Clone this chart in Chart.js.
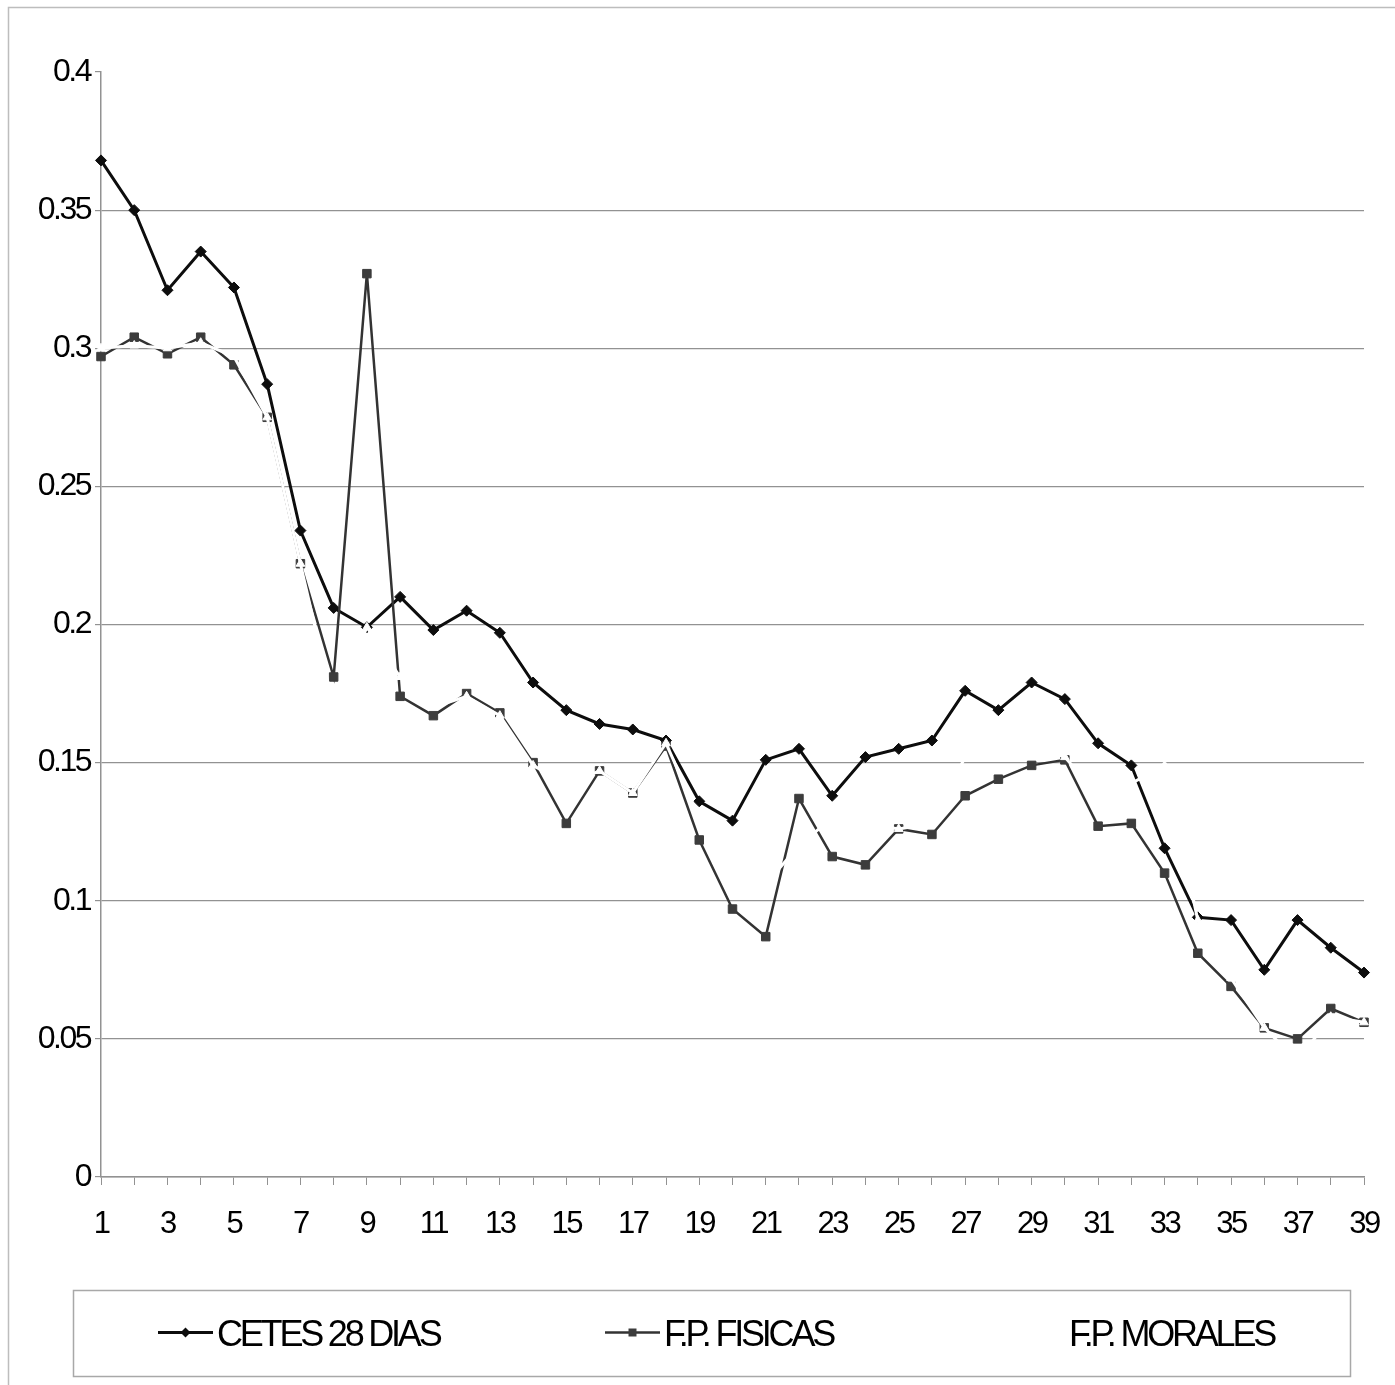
<!DOCTYPE html>
<html>
<head>
<meta charset="utf-8">
<title>CETES 28 DIAS / F.P. FISICAS / F.P. MORALES</title>
<script src="https://cdn.jsdelivr.net/npm/chart.js@4/dist/chart.umd.min.js"></script>
<style>
  html, body { margin: 0; padding: 0; background: #ffffff; }
  #wrap { width: 1395px; height: 1385px; position: relative; }
  canvas { display: block; }
</style>
</head>
<body>
<div id="wrap"><canvas id="c" width="1395" height="1385"></canvas></div>
<script>
// Periods on the horizontal axis
const periods = ['1','2','3','4','5','6','7','8','9','10','11','12','13','14','15','16','17','18','19','20',
                 '21','22','23','24','25','26','27','28','29','30','31','32','33','34','35','36','37','38','39'];

// Rates per period
const cetes28 = [0.368, 0.350, 0.321, 0.335, 0.322, 0.287, 0.234, 0.206, 0.199, 0.210,
                 0.198, 0.205, 0.197, 0.179, 0.169, 0.164, 0.162, 0.158, 0.136, 0.129,
                 0.151, 0.155, 0.138, 0.152, 0.155, 0.158, 0.176, 0.169, 0.179, 0.173,
                 0.157, 0.149, 0.119, 0.094, 0.093, 0.075, 0.093, 0.083, 0.074];

const fpFisicas = [0.297, 0.304, 0.298, 0.304, 0.294, 0.275, 0.222, 0.181, 0.327, 0.174,
                   0.167, 0.175, 0.168, 0.150, 0.128, 0.147, 0.139, 0.156, 0.122, 0.097,
                   0.087, 0.137, 0.116, 0.113, 0.126, 0.124, 0.138, 0.144, 0.149, 0.151,
                   0.127, 0.128, 0.110, 0.081, 0.069, 0.054, 0.050, 0.061, 0.056];

const fpMorales = [0.300, 0.301, 0.300, 0.302, 0.297, 0.275, 0.222, 0.170, 0.199, 0.181,
                   0.170, 0.174, 0.167, 0.149, 0.142, 0.147, 0.139, 0.157, 0.130, 0.110,
                   0.106, 0.120, 0.130, 0.128, 0.126, 0.128, 0.152, 0.155, 0.156, 0.152,
                   0.138, 0.1425, 0.149, 0.093, 0.072, 0.054, 0.042, 0.058, 0.056];

// Value axis
const yMin = 0;
const yMax = 0.4;
const yStep = 0.05;

const seriesNames = ['CETES 28 DIAS', 'F.P. FISICAS', 'F.P. MORALES'];

const FONT = "'Liberation Sans Narrow', 'Arial Narrow', 'Liberation Sans', Arial, sans-serif";
const GRID = '#929292';

// Outer frame of the figure; tight tracking for all canvas text
const framePlugin = {
  id: 'frame',
  beforeDraw(chart) {
    const ctx = chart.ctx;
    ctx.save();
    ctx.fillStyle = '#ffffff';
    ctx.fillRect(0, 0, chart.width, chart.height);
    ctx.strokeStyle = '#bdbdbd';
    ctx.lineWidth = 1.5;
    ctx.beginPath();
    ctx.moveTo(8.5, chart.height);
    ctx.lineTo(8.5, 7.5);
    ctx.lineTo(chart.width, 7.5);
    ctx.stroke();
    ctx.restore();
    if ('letterSpacing' in ctx) ctx.letterSpacing = '-2.5px';
  }
};

// Boxed legend below the axis: line sample, marker, series name
const boxLegendPlugin = {
  id: 'boxLegend',
  afterDraw(chart) {
    const ctx = chart.ctx;
    const area = chart.chartArea;
    const top = area.bottom + 113;
    const bottom = area.bottom + 199;
    const left = 73, right = 1350;
    ctx.save();
    ctx.strokeStyle = '#a8a8a8';
    ctx.lineWidth = 1.5;
    ctx.strokeRect(left + 0.5, top + 0.5, right - left, bottom - top);

    const midY = (top + bottom) / 2 - 0.5;
    const items = [
      { x: 158, text: 0 },
      { x: 605, text: 1 },
      { x: 1010, text: 2 }
    ];
    items.forEach((it, i) => {
      const ds = chart.data.datasets[i];
      const x0 = it.x, x1 = it.x + 55, xc = (x0 + x1) / 2;
      ctx.strokeStyle = ds.borderColor;
      ctx.lineWidth = ds.borderWidth;
      ctx.beginPath();
      ctx.moveTo(x0, midY);
      ctx.lineTo(x1, midY);
      ctx.stroke();
      ctx.fillStyle = ds.pointBackgroundColor;
      ctx.beginPath();
      if (ds.pointStyle === 'rectRot') {
        const r = 5;
        ctx.moveTo(xc, midY - r); ctx.lineTo(xc + r, midY);
        ctx.lineTo(xc, midY + r); ctx.lineTo(xc - r, midY);
        ctx.closePath();
      } else if (ds.pointStyle === 'rect') {
        ctx.rect(xc - 4, midY - 4, 8, 8);
      } else {
        ctx.moveTo(xc, midY - 5); ctx.lineTo(xc + 5, midY + 4); ctx.lineTo(xc - 5, midY + 4);
        ctx.closePath();
      }
      ctx.fill();

      ctx.fillStyle = '#000000';
      ctx.font = '36px ' + FONT;
      ctx.textAlign = 'left';
      ctx.textBaseline = 'alphabetic';
      if ('letterSpacing' in ctx) ctx.letterSpacing = '-3.2px';
      ctx.fillText(seriesNames[it.text], x1 + 4, midY + 13);
    });
    ctx.restore();
  }
};

const chart = new Chart(document.getElementById('c'), {
  type: 'line',
  data: {
    labels: periods,
    datasets: [
      {
        label: seriesNames[0],
        data: cetes28,
        borderColor: '#0d0d0d',
        backgroundColor: '#0d0d0d',
        borderWidth: 3,
        pointStyle: 'rectRot',
        pointRadius: 5.5,
        pointBackgroundColor: '#0d0d0d',
        pointBorderColor: '#0d0d0d',
        pointBorderWidth: 1,
        tension: 0,
        order: 2
      },
      {
        label: seriesNames[1],
        data: fpFisicas,
        borderColor: '#333333',
        backgroundColor: '#3c3c3c',
        borderWidth: 2.5,
        pointStyle: 'rect',
        pointRadius: 6,
        pointBackgroundColor: '#3c3c3c',
        pointBorderColor: '#3c3c3c',
        pointBorderWidth: 1,
        tension: 0,
        order: 1
      },
      {
        label: seriesNames[2],
        data: fpMorales,
        borderColor: '#ffffff',
        backgroundColor: '#ffffff',
        borderWidth: 3,
        pointStyle: 'triangle',
        pointRadius: 5,
        pointBackgroundColor: '#ffffff',
        pointBorderColor: '#ffffff',
        pointBorderWidth: 1,
        tension: 0,
        order: 0
      }
    ]
  },
  options: {
    responsive: false,
    animation: false,
    devicePixelRatio: 1,
    layout: { padding: { left: 0, top: 72, right: 31, bottom: 128 } },
    plugins: {
      legend: { display: false },
      tooltip: { enabled: false },
      title: { display: false }
    },
    scales: {
      x: {
        type: 'category',
        offset: false,
        grid: {
          display: true,
          drawOnChartArea: false,
          drawTicks: true,
          tickLength: 8,
          color: GRID,
          lineWidth: 1
        },
        border: { display: true, color: GRID, width: 1.5 },
        ticks: {
          autoSkip: false,
          maxRotation: 0,
          minRotation: 0,
          padding: 10,
          color: '#000000',
          font: { family: FONT, size: 31, lineHeight: 1.9 },
          callback: (v, i) => (i % 2 === 0 ? periods[i] : '')
        },
        afterFit: (scale) => { scale.height = 80; }
      },
      y: {
        min: yMin,
        max: yMax,
        grid: {
          drawTicks: true,
          tickLength: 6,
          color: (c) => (c.tick && Math.abs(c.tick.value - yMax) < 1e-9 ? 'rgba(0,0,0,0)' : GRID),
          tickColor: GRID,
          lineWidth: 1.2
        },
        border: { display: true, color: GRID, width: 1.5 },
        ticks: {
          stepSize: yStep,
          padding: 5,
          color: '#000000',
          font: { family: FONT, size: 32 },
          callback: (v) => String(Number(v.toFixed(2)))
        },
        afterFit: (scale) => { scale.width = 101; }
      }
    }
  },
  plugins: [framePlugin, boxLegendPlugin]
});
</script>
</body>
</html>
